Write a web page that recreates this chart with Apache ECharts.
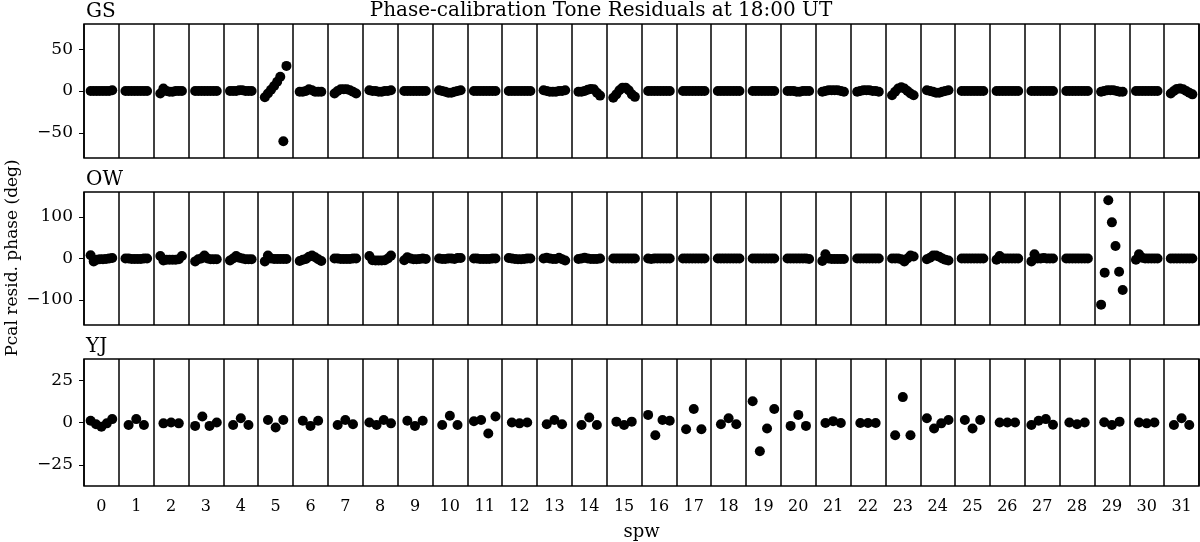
<!DOCTYPE html>
<html>
<head>
<meta charset="utf-8">
<script src="https://cdn.jsdelivr.net/npm/echarts@6/dist/echarts.min.js"></script>
<style>html,body{margin:0;padding:0;background:#fff}#c{width:1200px;height:542px}</style>
</head>
<body>
<div id="c"></div>
<script>
// ---- data ----
const spwLabels = ['0','1','2','3','4','5','6','7','8','9','10','11','12','13','14','15','16','17','18','19','20','21','22','23','24','25','26','27','28','29','30','31'];
const panelNames = ['GS', 'OW', 'YJ'];
const gsTicks = [-50, 0, 50];
const owTicks = [-100, 0, 100];
const yjTicks = [-25, 0, 25];

const gsPhase = [
  [0,0,0,0,0,0,0,1],
  [0,0,0,0,0,0,0,0],
  [-3,3,0,-1,-1,0,0,0],
  [0,0,0,0,0,0,0,0],
  [0,0,0,1,1,0,0,0],
  [-7.5,-3,1.5,6,11,17,-60,30],
  [-1,-1,0,2,1,-1,-1,-1],
  [-3,0,2,2,2,1,-1,-3],
  [1,0,0,-1,-1,0,0,1],
  [0,0,0,0,0,0,0,0],
  [1,0,-1,-2,-2,-1,0,1],
  [0,0,0,0,0,0,0,0],
  [0,0,0,0,0,0,0,0],
  [1,0,-1,-1,-1,0,0,1],
  [-1,-1,0,1.5,2.5,2,-2,-5.5],
  [-8,-4,1,4,4,1,-4,-7],
  [0,0,0,0,0,0,0,0],
  [0,0,0,0,0,0,0,0],
  [0,0,0,0,0,0,0,0],
  [0,0,0,0,0,0,0,0],
  [0,0,0,-1,-1,0,0,0],
  [-1,0,1,1,1,1,0,-1],
  [-1,0,1,1,1,0,0,-1],
  [-5,-1,3,4.5,3,0,-3,-5],
  [1,0,-1,-2,-2,-1,0,1],
  [0,0,0,0,0,0,0,0],
  [0,0,0,0,0,0,0,0],
  [0,0,0,0,0,0,0,0],
  [0,0,0,0,0,0,0,0],
  [-1,0,1,1,1,0,-1,-1],
  [0,0,0,0,0,0,0,0],
  [-3,0,2.5,3,2,0,-2,-4]
];

const owPhase = [
  [8,-7,-3,-2,-2,-1,0,1],
  [0,0,-1,-1,-1,-1,0,0],
  [6,-5,-3,-3,-3,-3,-2,6],
  [-7,-2,0,7,0,-2,-2,-2],
  [-5,0,6,2,0,-2,-2,-2],
  [-7,7,0,-1,-1,-1,-1,-1],
  [-6,-3,-1,4,7,3,-2,-6],
  [0,0,-1,-1,-1,-1,0,0],
  [6,-4,-5,-5,-5,-4,0,7],
  [-4,3,0,-2,-2,-1,0,-1],
  [0,-1,-1,0,0,-1,1,1],
  [0,0,-1,-1,-1,-1,0,0],
  [1,0,-1,-2,-2,-1,0,0],
  [0,2,0,-1,-1,2,-2,-5],
  [-1,0,2,0,-1,-1,-1,0],
  [0,0,0,0,0,0,0,0],
  [0,-1,0,0,0,0,0,0],
  [0,0,0,0,0,0,0,0],
  [0,0,0,0,0,0,0,0],
  [0,0,0,0,0,0,0,0],
  [0,0,0,0,0,0,0,-1],
  [-6,10,0,-1,-1,-1,-1,-1],
  [0,0,0,0,0,0,0,0],
  [0,0,0,-2,-7,0,7,5],
  [-2,2,7,7,4,0,-3,-5],
  [0,0,0,0,0,0,0,0],
  [-3,6,0,0,0,0,0,0],
  [-7,10,0,0,1,0,0,0],
  [0,0,0,0,0,0,0,0],
  [-111,-34,140,87,30,-32,-76],
  [-3,10,2,0,0,0,0,0],
  [0,0,0,0,0,0,0,0]
];

const yjPhase = [
  [1,-1,-2.5,-0.5,2],
  [-1.5,2,-1.5],
  [-0.5,0,-0.5],
  [-2,3.5,-2,0],
  [-1.5,2.5,-1.5],
  [1.5,-3,1.5],
  [1,-2,1],
  [-1.5,1.5,-1],
  [0,-1.5,1.5,-0.5],
  [1,-2,1],
  [-1.5,4,-1.5],
  [0.7,1.5,-6.5,3.5],
  [0,-0.5,0],
  [-1,1.5,-1],
  [-1.5,3,-1.5],
  [0.5,-1.5,0.5],
  [4.5,-7.5,1.5,1],
  [-4,8,-4],
  [-1,2.5,-1],
  [12.5,-17,-3.5,8],
  [-2,4.5,-2],
  [-0.3,0.8,-0.3],
  [-0.3,-0.3,-0.3],
  [-7.5,15,-7.5],
  [2.5,-3.5,-0.5,1.5],
  [1.5,-3.5,1.5],
  [0,0,0],
  [-1.5,1,2,-1.3],
  [0,-1,0],
  [0.2,-1.5,0.5],
  [0,-0.5,0],
  [-1.5,2.5,-1.5]
];

// ---- build ----
const FONT = 'DejaVu Serif';
function toPoints(perSpw) {
  const pts = [];
  perSpw.forEach((vals, k) => {
    const n = vals.length;
    const h = Math.min(0.31, 0.11 * (n - 1));
    vals.forEach((v, i) => {
      const x = n > 1 ? k - h + (2 * h * i) / (n - 1) : k;
      pts.push([x, v]);
    });
  });
  return pts;
}
function fmt(v) { return v < 0 ? '\u2212' + Math.abs(v) : String(v); }

const panels = [
  { data: gsPhase, ticks: gsTicks, lim: 80, top: 24, height: 134 },
  { data: owPhase, ticks: owTicks, lim: 160, top: 192, height: 133 },
  { data: yjPhase, ticks: yjTicks, lim: 37.5, top: 359, height: 134 }
];

const grid = [], xAxis = [], yAxis = [], series = [], graphic = [];
panels.forEach((p, i) => {
  const last = i === panels.length - 1;
  grid.push({ left: 84, right: 1, top: p.top, height: p.height, show: true, borderColor: '#000', borderWidth: 1.5, backgroundColor: 'transparent' });
  xAxis.push({
    type: 'category', gridIndex: i, data: spwLabels, boundaryGap: true,
    axisLine: { show: false, onZero: false }, axisTick: { show: false },
    splitLine: { show: true, lineStyle: { color: '#000', width: 1.5 } },
    axisLabel: { show: last, color: '#000', fontFamily: FONT, fontSize: 16, margin: 13 },
    name: last ? 'spw' : '', nameLocation: 'middle', nameGap: 37,
    nameTextStyle: { color: '#000', fontFamily: FONT, fontSize: 18 }
  });
  xAxis.push({ type: 'value', gridIndex: i, min: -0.5, max: 31.5, show: false, axisLine: { onZero: false } });
  yAxis.push({
    type: 'value', gridIndex: i, min: -p.lim, max: p.lim,
    axisLine: { show: false, onZero: false },
    splitLine: { show: false },
    axisTick: { show: true, length: 5, customValues: p.ticks, lineStyle: { color: '#000', width: 1 } },
    axisLabel: { show: true, customValues: p.ticks, formatter: fmt, color: '#000', fontFamily: FONT, fontSize: 17, margin: 11 }
  });
  series.push({
    type: 'scatter', xAxisIndex: 2 * i + 1, yAxisIndex: i,
    data: toPoints(p.data), symbol: 'circle', symbolSize: 10,
    itemStyle: { color: '#000', opacity: 1 }, silent: true, animation: false
  });
  graphic.push({
    type: 'text', x: 86, y: p.top - 12,
    style: { text: panelNames[i], fill: '#000', font: '20px "' + FONT + '"', textVerticalAlign: 'middle' }
  });
});

graphic.push({
  type: 'text', x: 601, y: 11,
  style: { text: 'Phase-calibration Tone Residuals at 18:00 UT', fill: '#000', font: '20px "' + FONT + '"', textAlign: 'center', textVerticalAlign: 'middle' }
});
graphic.push({
  type: 'text', x: 13, y: 258, rotation: Math.PI / 2,
  style: { text: 'Pcal resid. phase (deg)', fill: '#000', font: '17px "' + FONT + '"', textAlign: 'center', textVerticalAlign: 'middle' }
});

const chart = echarts.init(document.getElementById('c'), null, { renderer: 'canvas' });
chart.setOption({ animation: false, backgroundColor: '#fff', grid, xAxis, yAxis, series, graphic });
</script>
</body>
</html>
